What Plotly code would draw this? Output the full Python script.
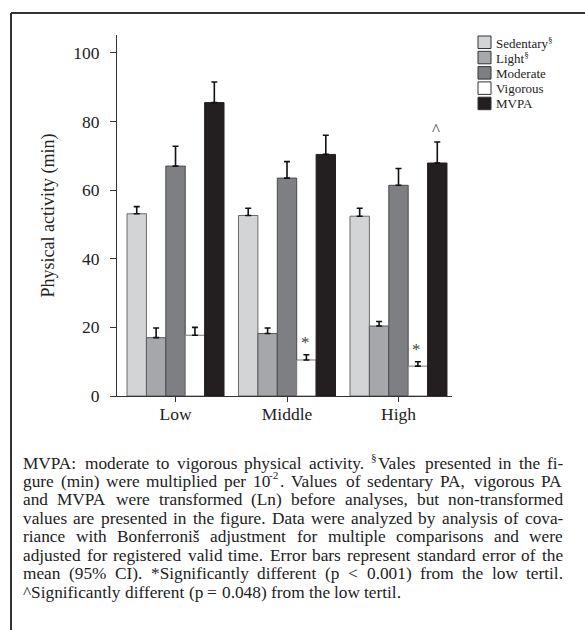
import re
import plotly.graph_objects as go

# ---------------- data ----------------
categories = ["Low", "Middle", "High"]
series_names = ["Sedentary", "Light", "Moderate", "Vigorous", "MVPA"]
series_labels = ["Sedentary<sup>§</sup>", "Light<sup>§</sup>", "Moderate", "Vigorous", "MVPA"]
sedentary = [53.1, 52.6, 52.4]
light = [17.0, 18.2, 20.4]
moderate = [67.0, 63.5, 61.4]
vigorous = [17.7, 10.5, 8.7]
mvpa = [85.5, 70.4, 67.9]
sedentary_err = [2.1, 2.1, 2.3]
light_err = [2.8, 1.6, 1.3]
moderate_err = [5.8, 4.8, 4.9]
vigorous_err = [2.3, 1.5, 1.3]
mvpa_err = [6.0, 5.6, 6.1]
y_ticks = [0, 20, 40, 60, 80, 100]
# significance marks: (category index, series index, symbol)
sig_marks = [(1, 3, "*"), (2, 3, "*"), (2, 4, "^")]

caption_lines = [
    "MVPA: moderate to vigorous physical activity. <sup>§</sup>Vales presented in the fi-",
    "gure (min) were multiplied per 10<sup>-2</sup>. Values of sedentary PA, vigorous PA",
    "and MVPA were transformed (Ln) before analyses, but non-transformed",
    "values are presented in the figure. Data were analyzed by analysis of cova-",
    "riance with Bonferroni\u0161 adjustment for multiple comparisons and were",
    "adjusted for registered valid time. Error bars represent standard error of the",
    "mean (95% CI). *Significantly different (p < 0.001) from the low tertil.",
    "^Significantly different (p = 0.048) from the low tertil.",
]

values = [sedentary, light, moderate, vigorous, mvpa]
errors = [sedentary_err, light_err, moderate_err, vigorous_err, mvpa_err]
fills = ["#d3d4d6", "#a6a7aa", "#7e7f83", "#ffffff", "#231f20"]
outlines = ["#6a6a6a", "#5a5a5a", "#4a4a4a", "#7a7a7a", "#231f20"]

W, H = 585, 630
L, R, T, B = 117, 133, 35, 234
BARGAP = 0.13
FONT = "Liberation Serif, Times New Roman, serif"
CAP_SIZE = 17.3
SUP_SCALE = 0.65

# Times/Liberation Serif advance widths (1/1000 em)
TIMES_W = {
    " ": 250, "!": 333, '"': 408, "#": 500, "$": 500, "%": 833, "&": 778, "'": 180,
    "(": 333, ")": 333, "*": 500, "+": 564, ",": 250, "-": 333, ".": 250, "/": 278,
    ":": 278, ";": 278, "<": 564, "=": 564, ">": 564, "?": 444, "@": 921,
    "A": 722, "B": 667, "C": 667, "D": 722, "E": 611, "F": 556, "G": 722, "H": 722,
    "I": 333, "J": 389, "K": 722, "L": 611, "M": 889, "N": 722, "O": 722, "P": 556,
    "Q": 722, "R": 667, "S": 556, "T": 611, "U": 722, "V": 722, "W": 944, "X": 722,
    "Y": 722, "Z": 611, "[": 333, "]": 333, "^": 469, "_": 500,
    "a": 444, "b": 500, "c": 444, "d": 500, "e": 444, "f": 333, "g": 500, "h": 500,
    "i": 278, "j": 278, "k": 500, "l": 278, "m": 778, "n": 500, "o": 500, "p": 500,
    "q": 500, "r": 333, "s": 389, "t": 278, "u": 500, "v": 500, "w": 722, "x": 500,
    "y": 500, "z": 444, "§": 500, "\u0161": 389,
}
for d in "0123456789":
    TIMES_W[d] = 500


def segments(word):
    """Split a word into (text, is_superscript) pieces."""
    out = []
    for part in re.split(r"(<sup>.*?</sup>)", word):
        if not part:
            continue
        if part.startswith("<sup>"):
            out.append((part[5:-6], True))
        else:
            out.append((part, False))
    return out


def seg_width(text, sup, size):
    w = sum(TIMES_W.get(c, 500) for c in text) * size / 1000.0
    return w * SUP_SCALE if sup else w


def px(x):
    return (x - L) / (W - L - R)


def py(y):
    return (H - B - y) / (H - T - B)


fig = go.Figure()
for name, vals, errs, fc, lc in zip(series_names, values, errors, fills, outlines):
    fig.add_trace(go.Bar(
        name=name, x=categories, y=vals,
        marker=dict(color=fc, line=dict(color=lc, width=1)),
        error_y=dict(type="data", array=errs, arrayminus=[0] * len(errs),
                     symmetric=False, color="#111111", thickness=1.6, width=3),
        showlegend=False,
    ))

annotations = []
n = len(series_names)
bw = (1 - BARGAP) / n
for ci, si, sym in sig_marks:
    xpos = ci + (si - (n - 1) / 2) * bw
    ytop = values[si][ci] + errors[si][ci]
    annotations.append(dict(
        x=xpos, y=ytop, xref="x", yref="y", text=sym, showarrow=False,
        yanchor="bottom", yshift=1, xshift=-1,
        font=dict(family=FONT, size=17, color="#444444"),
    ))

# manual legend
leg_y0 = 36
leg_step = 15.3
for i, (lab, fc) in enumerate(zip(series_labels, fills)):
    y0 = leg_y0 + i * leg_step
    fig.add_shape(type="rect", xref="paper", yref="paper",
                  x0=px(478), x1=px(491), y0=py(y0), y1=py(y0 + 12.5),
                  fillcolor=fc, line=dict(color="#333333", width=1))
    annotations.append(dict(
        x=px(495), y=py(y0 + 6.5), xref="paper", yref="paper", text=lab,
        showarrow=False, xanchor="left", yanchor="middle", borderpad=0,
        font=dict(family=FONT, size=13, color="#222222"),
    ))


def place_word(word, x, yc):
    for text, sup in segments(word):
        size = CAP_SIZE * SUP_SCALE if sup else CAP_SIZE
        annotations.append(dict(
            x=px(x), y=yc, xref="paper", yref="paper", text=text,
            showarrow=False, xanchor="left", yanchor="middle", borderpad=0,
            yshift=6 if sup else 0, xshift=-1 if sup else 0,
            font=dict(family=FONT, size=size, color="#222222"),
        ))
        x += seg_width(text, sup, CAP_SIZE) + (0.5 if sup else 0)


# caption (justified lines, last line left-aligned)
cap_x0, cap_x1 = 22, 562
cap_y0 = 463
cap_step = 18.45
space_w = TIMES_W[" "] * CAP_SIZE / 1000.0
for i, line in enumerate(caption_lines):
    yc = py(cap_y0 + i * cap_step)
    words = line.split(" ")
    wws = [sum(seg_width(t, s, CAP_SIZE) + (0.5 if s else 0) for t, s in segments(w))
           for w in words]
    if i == len(caption_lines) - 1:
        gap = space_w
    else:
        gap = (cap_x1 - cap_x0 - sum(wws)) / (len(words) - 1)
    x = cap_x0
    for w, ww in zip(words, wws):
        place_word(w, x, yc)
        x += ww + gap

# outer frame (top and left edges)
fig.add_shape(type="line", xref="paper", yref="paper",
              x0=px(11), x1=px(600), y0=py(13), y1=py(13),
              line=dict(color="#333333", width=2))
fig.add_shape(type="line", xref="paper", yref="paper",
              x0=px(11), x1=px(11), y0=py(13), y1=py(640),
              line=dict(color="#333333", width=2))

fig.update_layout(
    width=W, height=H,
    margin=dict(l=L, r=R, t=T, b=B, autoexpand=False),
    paper_bgcolor="white", plot_bgcolor="white",
    barmode="group", bargap=BARGAP, bargroupgap=0,
    font=dict(family=FONT, color="#222222"),
    annotations=annotations,
    xaxis=dict(
        range=[-0.525, 2.48], showline=True, linecolor="#333333", linewidth=1,
        ticks="outside", ticklen=5, tickcolor="#333333", tickwidth=1,
        tickfont=dict(family=FONT, size=17.5, color="#222222"),
        showgrid=False, zeroline=False, ticklabelstandoff=-3,
    ),
    yaxis=dict(
        range=[0, 105.2], tickvals=y_ticks, showline=True, linecolor="#333333",
        linewidth=1, ticks="outside", ticklen=6, tickcolor="#333333", tickwidth=1,
        tickfont=dict(family=FONT, size=17.5, color="#222222"),
        showgrid=False, zeroline=False, ticklabelstandoff=7,
        title=dict(text="Physical activity (min)", standoff=13,
                   font=dict(family=FONT, size=18, color="#222222")),
    ),
)

fig.write_html("out.html", config={"displayModeBar": False},
               post_script="document.body.style.margin='0';")
